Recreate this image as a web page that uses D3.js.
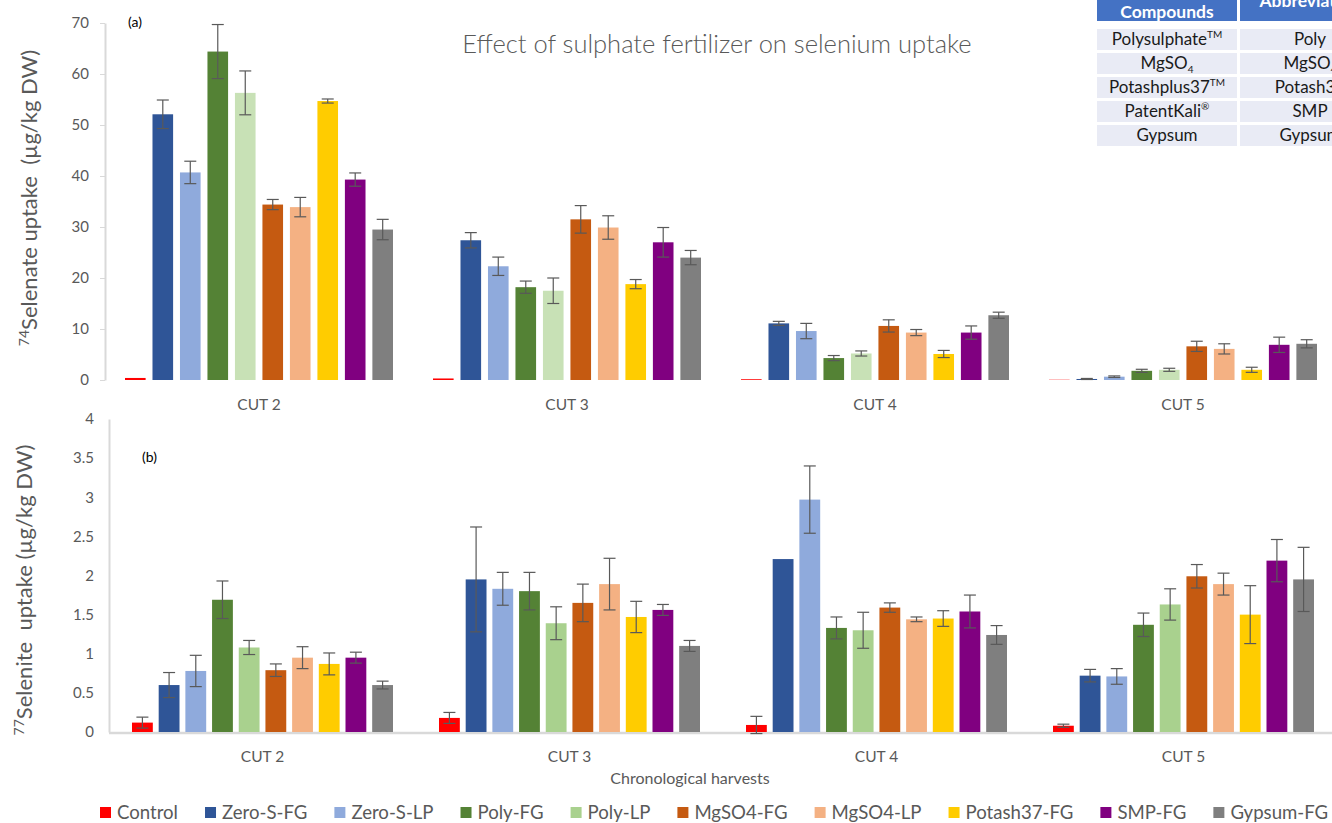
<!DOCTYPE html>
<html>
<head>
<meta charset="utf-8">
<script src="https://cdn.jsdelivr.net/npm/d3@7"></script>
<style>
  body { margin: 0; background: #fff; overflow: hidden; }
  text { font-family: Lato, "Open Sans", sans-serif; }
</style>
</head>
<body>
<script>
var cuts = ["CUT 2", "CUT 3", "CUT 4", "CUT 5"];
var treatments = ["Control", "Zero-S-FG", "Zero-S-LP", "Poly-FG", "Poly-LP",
  "MgSO4-FG", "MgSO4-LP", "Potash37-FG", "SMP-FG", "Gypsum-FG"];
var colors = ["#FF0000", "#2F5597", "#8FAADC", "#548235", "#A9D18E",
  "#C55A11", "#F4B183", "#FFCC00", "#800080", "#7F7F7F"];
var colorsTop = ["#FF0000", "#2F5597", "#8FAADC", "#548235", "#C8E1B6",
  "#C55A11", "#F4B183", "#FFCC00", "#800080", "#7F7F7F"];

// (a) 74Selenate uptake, one row per cut
var selenate = [
  [0.4, 52.1, 40.7, 64.4, 56.3, 34.4, 33.9, 54.7, 39.3, 29.5],
  [0.3, 27.4, 22.3, 18.2, 17.5, 31.5, 29.9, 18.8, 27.0, 24.0],
  [0.15, 11.1, 9.6, 4.3, 5.2, 10.6, 9.3, 5.1, 9.3, 12.7],
  [0.05, 0.2, 0.65, 1.8, 2.0, 6.6, 6.1, 2.0, 6.9, 7.1]
];
var selenateErr = [
  [0, 2.8, 2.2, 5.3, 4.3, 1.0, 1.9, 0.4, 1.3, 2.0],
  [0, 1.5, 1.8, 1.2, 2.5, 2.7, 2.3, 0.9, 2.9, 1.4],
  [0, 0.4, 1.5, 0.5, 0.5, 1.2, 0.6, 0.7, 1.3, 0.6],
  [0, 0.1, 0.15, 0.3, 0.3, 1.0, 1.0, 0.5, 1.5, 0.8]
];

// (b) 77Selenite uptake
var selenite = [
  [0.12, 0.60, 0.78, 1.69, 1.08, 0.79, 0.95, 0.87, 0.95, 0.60],
  [0.18, 1.95, 1.83, 1.80, 1.39, 1.65, 1.89, 1.47, 1.56, 1.10],
  [0.09, 2.21, 2.97, 1.33, 1.30, 1.59, 1.44, 1.45, 1.54, 1.24],
  [0.08, 0.72, 0.71, 1.37, 1.63, 1.99, 1.89, 1.50, 2.19, 1.95]
];
var seleniteErr = [
  [0.07, 0.16, 0.20, 0.24, 0.09, 0.08, 0.14, 0.14, 0.07, 0.05],
  [0.07, 0.67, 0.21, 0.24, 0.21, 0.24, 0.33, 0.20, 0.07, 0.07],
  [0.11, 0, 0.43, 0.14, 0.23, 0.06, 0.03, 0.10, 0.21, 0.12],
  [0.02, 0.08, 0.10, 0.15, 0.20, 0.15, 0.14, 0.37, 0.27, 0.41]
];

var selenateTicks = [0, 10, 20, 30, 40, 50, 60, 70];
var seleniteTicks = [0, 0.5, 1, 1.5, 2, 2.5, 3, 3.5, 4];

var tableHeader = ["Compounds", "Abbreviation"];
var compounds = [["Polysulphate", "TM", "sup"], ["MgSO", "4", "sub"],
  ["Potashplus37", "TM", "sup"], ["PatentKali", "®", "sup"], ["Gypsum", "", ""]];
var abbreviations = [["Poly", "", ""], ["MgSO", "4", "sub"],
  ["Potash37", "", ""], ["SMP", "", ""], ["Gypsum", "", ""]];

var width = 1332, height = 823;
var svg = d3.select("body").append("svg")
  .attr("width", width)
  .attr("height", height);

function drawPanel(p) {
  var g = svg.append("g");
  var x = d3.scaleBand().domain(cuts).range([p.left, p.left + cuts.length * p.catW]);
  var xi = d3.scaleBand().domain(d3.range(treatments.length))
    .range([p.inL, p.inR]).paddingInner(p.padIn);
  var y = d3.scaleLinear().domain([0, p.max]).range([p.bottom, p.top]);

  var yAxis = d3.axisLeft(y).tickValues(p.ticks).tickFormat(d3.format(""))
    .tickSize(p.tickSize).tickSizeOuter(0).tickPadding(p.tickPad);
  var ay = g.append("g").attr("transform", "translate(" + p.left + ",0)").call(yAxis);
  ay.select(".domain").attr("stroke", "#D9D9D9").attr("stroke-width", 2);
  ay.selectAll(".tick line").attr("stroke", "#D9D9D9");
  ay.selectAll(".tick text").attr("fill", "#595959").style("font-size", "15px");

  if (p.baseline) {
    g.append("line")
      .attr("x1", p.left).attr("x2", width)
      .attr("y1", y(0) + 1).attr("y2", y(0) + 1)
      .attr("stroke", "#D9D9D9").attr("stroke-width", 2.5);
  }

  var groups = g.selectAll("g.cut")
    .data(cuts)
    .enter().append("g")
    .attr("class", "cut")
    .attr("transform", function(d) { return "translate(" + x(d) + ",0)"; });

  groups.selectAll("rect")
    .data(function(d, i) {
      return p.values[i].map(function(v, j) { return {v: v, e: p.errs[i][j], j: j}; });
    })
    .enter().append("rect")
    .attr("x", function(d) { return xi(d.j); })
    .attr("width", xi.bandwidth())
    .attr("y", function(d) { return y(d.v); })
    .attr("height", function(d) { return y(0) - y(d.v); })
    .attr("fill", function(d) { return p.colors[d.j]; });

  var err = groups.selectAll("g.err")
    .data(function(d, i) {
      return p.values[i].map(function(v, j) { return {v: v, e: p.errs[i][j], j: j}; })
        .filter(function(d) { return d.e > 0; });
    })
    .enter().append("g")
    .attr("class", "err")
    .attr("stroke", "#595959")
    .attr("stroke-width", 1.2);
  err.append("line")
    .attr("x1", function(d) { return xi(d.j) + xi.bandwidth() / 2; })
    .attr("x2", function(d) { return xi(d.j) + xi.bandwidth() / 2; })
    .attr("y1", function(d) { return y(d.v - d.e); })
    .attr("y2", function(d) { return y(d.v + d.e); });
  [-1, 1].forEach(function(s) {
    err.append("line")
      .attr("x1", function(d) { return xi(d.j) + xi.bandwidth() / 2 - 6; })
      .attr("x2", function(d) { return xi(d.j) + xi.bandwidth() / 2 + 6; })
      .attr("y1", function(d) { return y(d.v + s * d.e); })
      .attr("y2", function(d) { return y(d.v + s * d.e); });
  });

  g.selectAll("text.cutlabel")
    .data(cuts)
    .enter().append("text")
    .attr("class", "cutlabel")
    .attr("x", function(d) { return x(d) + x.bandwidth() / 2; })
    .attr("y", p.labelY)
    .attr("text-anchor", "middle")
    .attr("fill", "#595959")
    .style("font-size", "15.5px")
    .text(function(d) { return d; });

  g.append("text")
    .attr("x", p.tagX).attr("y", p.tagY)
    .attr("fill", "#000")
    .style("font-size", "14px")
    .text(p.tag);

  var t = g.append("text")
    .attr("transform", "translate(" + p.titleX + "," + p.titleY + ") rotate(-90)")
    .attr("text-anchor", "middle")
    .attr("fill", "#595959")
    .style("font-size", "22px");
  t.append("tspan").attr("dy", -8).style("font-size", "14px").text(p.iso);
  t.append("tspan").attr("dy", 8).text(p.title);
}

drawPanel({
  left: 105, catW: 308, inL: 20, inR: 288, padIn: 0.25,
  max: 70, top: 23, bottom: 380, ticks: selenateTicks,
  tickSize: 5, tickPad: 11, baseline: false,
  values: selenate, errs: selenateErr, colors: colorsTop,
  labelY: 410, tag: "(a)", tagX: 128, tagY: 27,
  iso: "74", title: "Selenate uptake\u00a0\u00a0(\u00b5g/kg DW)", titleX: 37, titleY: 198
});

drawPanel({
  left: 109, catW: 307, inL: 23, inR: 284, padIn: 0.22,
  max: 4, top: 419, bottom: 732, ticks: seleniteTicks,
  tickSize: 0, tickPad: 15, baseline: true,
  values: selenite, errs: seleniteErr, colors: colors,
  labelY: 762, tag: "(b)", tagX: 142, tagY: 462,
  iso: "77", title: "Selenite\u00a0\u00a0uptake (\u00b5g/kg DW)", titleX: 32, titleY: 590
});

svg.append("text")
  .attr("x", 717).attr("y", 53)
  .attr("text-anchor", "middle")
  .attr("fill", "#595959")
  .style("font-size", "25.5px")
  .style("font-weight", 300)
  .text("Effect of sulphate fertilizer on selenium uptake");

svg.append("text")
  .attr("x", 690).attr("y", 784)
  .attr("text-anchor", "middle")
  .attr("fill", "#595959")
  .style("font-size", "16px")
  .text("Chronological harvests");

// legend
var legend = svg.append("g").attr("transform", "translate(100,812)");
var lx = 0;
treatments.forEach(function(name, i) {
  var item = legend.append("g").attr("transform", "translate(" + lx + ",0)");
  item.append("rect").attr("x", 0).attr("y", -5).attr("width", 11).attr("height", 11)
    .attr("fill", colors[i]);
  var txt = item.append("text").attr("x", 17).attr("y", 7)
    .attr("fill", "#595959").style("font-size", "18.6px").text(name);
  lx += 17 + txt.node().getComputedTextLength() + 27;
});

// compound table
var table = svg.append("g");
var colX = [1097, 1240], colW = [140, 140];
tableHeader.forEach(function(h, c) {
  table.append("rect").attr("x", colX[c]).attr("y", 0)
    .attr("width", colW[c]).attr("height", 21).attr("fill", "#4472C4");
  table.append("text")
    .attr("x", colX[c] + colW[c] / 2).attr("y", c === 0 ? 18 : 7)
    .attr("text-anchor", "middle").attr("fill", "#fff")
    .style("font-size", "17.5px").style("font-weight", "bold")
    .text(h);
});
function cellText(x, y, parts) {
  var t = table.append("text").attr("x", x).attr("y", y)
    .attr("text-anchor", "middle").attr("fill", "#1a1a1a")
    .style("font-size", "17px");
  t.append("tspan").text(parts[0]);
  if (parts[1]) {
    var dy = parts[2] === "sup" ? -7 : 4;
    t.append("tspan").attr("dy", dy).style("font-size", "10px").text(parts[1]);
  }
}
[compounds, abbreviations].forEach(function(col, c) {
  col.forEach(function(parts, r) {
    var ry = 29 + r * 24;
    table.append("rect").attr("x", colX[c]).attr("y", ry)
      .attr("width", colW[c]).attr("height", 21).attr("fill", "#E9EBF5");
    cellText(colX[c] + colW[c] / 2, ry + 16, parts);
  });
});
</script>
</body>
</html>
